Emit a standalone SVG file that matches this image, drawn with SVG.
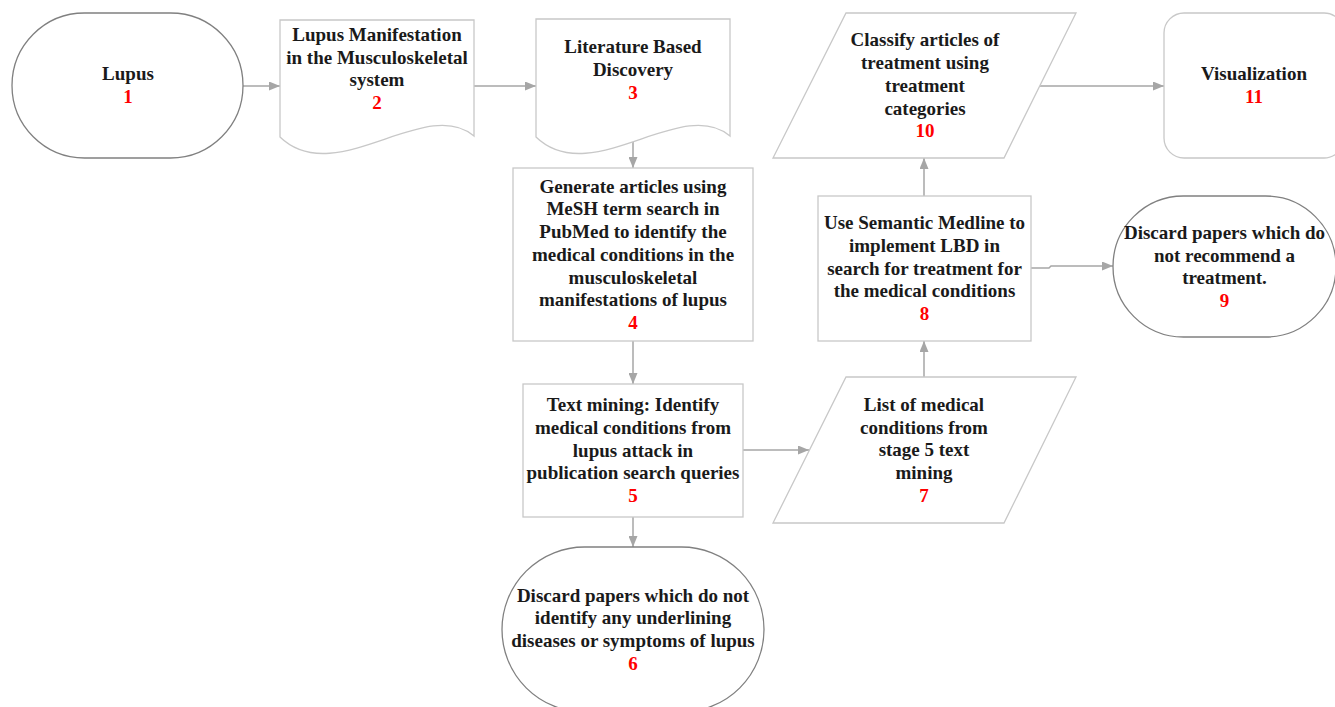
<svg xmlns="http://www.w3.org/2000/svg" width="1335" height="707" viewBox="0 0 1335 707">
<style>
.bg{fill:#ffffff}
.light{fill:#ffffff;stroke:#c8c8c8;stroke-width:1.3}
.dark{fill:#ffffff;stroke:#808080;stroke-width:1.3}
.t{font-family:"Liberation Serif","Times New Roman",serif;font-weight:bold;font-size:19px;fill:#1a1a1a;text-anchor:middle}
.n{fill:#ff0000}
.c{fill:none;stroke:#a6a6a6;stroke-width:1.5;marker-end:url(#ah)}
</style>
<defs>
<marker id="ah" markerUnits="userSpaceOnUse" markerWidth="11" markerHeight="9" refX="11" refY="4.5" orient="auto">
<path d="M0,0 L11,4.5 L0,9 z" fill="#a6a6a6"/>
</marker>
</defs>
<rect class="bg" x="0" y="0" width="1335" height="707"/>
<g id="connectors">
<path class="c" d="M243,86 L280,86"/>
<path class="c" d="M474,86 L536,86"/>
<path class="c" d="M633,140 L633,168"/>
<path class="c" d="M633,341 L633,384"/>
<path class="c" d="M633,517 L633,547"/>
<path class="c" d="M743,450 L809,450"/>
<path class="c" d="M924,377 L924,341"/>
<path class="c" d="M924,196 L924,158"/>
<path class="c" d="M1031,268 L1049,268 L1051,266 L1113,266"/>
<path class="c" d="M1040,86 L1164,86"/>
</g>
<g id="node1">
<rect class="dark" x="12" y="13" width="231" height="145" rx="72.5" ry="72.5"/>
<text class="t" x="128" y="80.4">Lupus</text>
<text class="t n" x="128" y="102.8">1</text>
</g>
<g id="node2">
<path class="light" d="M280,20 L474,20 L474,136 C425,95 335,190 280,137 Z"/>
<text class="t" x="377" y="41">Lupus Manifestation</text>
<text class="t" x="377" y="63.7">in the Musculoskeletal</text>
<text class="t" x="377" y="86.4">system</text>
<text class="t n" x="377" y="109.1">2</text>
</g>
<g id="node3">
<path class="light" d="M536,19 L730,19 L730,136 C681,95 591,190 536,137 Z"/>
<text class="t" x="633" y="53.3">Literature Based</text>
<text class="t" x="633" y="76">Discovery</text>
<text class="t n" x="633" y="98.7">3</text>
</g>
<g id="node4">
<rect class="light" x="513" y="168" width="240" height="173"/>
<text class="t" x="633" y="192.7">Generate articles using</text>
<text class="t" x="633" y="215.4">MeSH term search in</text>
<text class="t" x="633" y="238.1">PubMed to identify the</text>
<text class="t" x="633" y="260.8">medical conditions in the</text>
<text class="t" x="633" y="283.5">musculoskeletal</text>
<text class="t" x="633" y="306.2">manifestations of lupus</text>
<text class="t n" x="633" y="328.9">4</text>
</g>
<g id="node5">
<rect class="light" x="523" y="384" width="220" height="133"/>
<text class="t" x="633" y="411.3">Text mining: Identify</text>
<text class="t" x="633" y="434">medical conditions from</text>
<text class="t" x="633" y="456.7">lupus attack in</text>
<text class="t" x="633" y="479.4">publication search queries</text>
<text class="t n" x="633" y="502.1">5</text>
</g>
<g id="node6">
<rect class="dark" x="502" y="547" width="262" height="165" rx="82.5" ry="82.5"/>
<text class="t" x="633" y="601.7">Discard papers which do not</text>
<text class="t" x="633" y="624.4">identify any underlining</text>
<text class="t" x="633" y="647.1">diseases or symptoms of lupus</text>
<text class="t n" x="633" y="669.8">6</text>
</g>
<g id="node7">
<path class="light" d="M846,377 L1076,377 L1004,523 L773,523 Z"/>
<text class="t" x="924" y="410.8">List of medical</text>
<text class="t" x="924" y="433.5">conditions from</text>
<text class="t" x="924" y="456.2">stage 5 text</text>
<text class="t" x="924" y="478.9">mining</text>
<text class="t n" x="924" y="501.6">7</text>
</g>
<g id="node8">
<rect class="light" x="818" y="196" width="213" height="145"/>
<text class="t" x="924.5" y="229.3">Use Semantic Medline to</text>
<text class="t" x="924.5" y="252">implement LBD in</text>
<text class="t" x="924.5" y="274.7">search for treatment for</text>
<text class="t" x="924.5" y="297.4">the medical conditions</text>
<text class="t n" x="924.5" y="320.1">8</text>
</g>
<g id="node9">
<rect class="dark" x="1113" y="196" width="223" height="141" rx="70.5" ry="70.5"/>
<text class="t" x="1224.5" y="238.8">Discard papers which do</text>
<text class="t" x="1224.5" y="261.5">not recommend a</text>
<text class="t" x="1224.5" y="284.2">treatment.</text>
<text class="t n" x="1224.5" y="306.9">9</text>
</g>
<g id="node10">
<path class="light" d="M846,13 L1076,13 L1004,158 L773,158 Z"/>
<text class="t" x="925" y="46.4">Classify articles of</text>
<text class="t" x="925" y="69.1">treatment using</text>
<text class="t" x="925" y="91.8">treatment</text>
<text class="t" x="925" y="114.5">categories</text>
<text class="t n" x="925" y="137.2">10</text>
</g>
<g id="node11">
<rect class="light" x="1164" y="13" width="180" height="145" rx="20" ry="20"/>
<text class="t" x="1254" y="80.4">Visualization</text>
<text class="t n" x="1254" y="102.8">11</text>
</g>
</svg>
